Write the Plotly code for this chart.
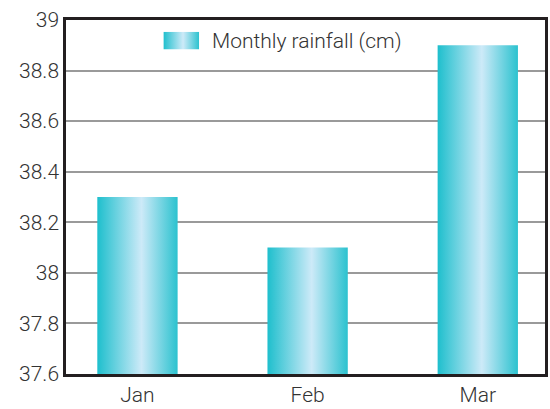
import base64
import plotly.graph_objects as go

categories = ["Jan", "Feb", "Mar"]
rainfall = [38.3, 38.1, 38.9]
series_name = "Monthly rainfall (cm)"
y_ticks = [37.6, 37.8, 38.0, 38.2, 38.4, 38.6, 38.8, 39.0]
y_tick_labels = ["37.6", "37.8", "38", "38.2", "38.4", "38.6", "38.8", "39"]

y_min, y_max = 37.6, 39.0
half_w = 0.236
grad = [[0, "#1ebfcd"], [0.55, "#cdeaf8"], [1, "#2bc2cf"]]

fig = go.Figure()
for i, (cat, v) in enumerate(zip(categories, rainfall)):
    fig.add_trace(go.Scatter(
        x=[i - half_w, i - half_w, i + half_w, i + half_w, i - half_w],
        y=[y_min, v, v, y_min, y_min],
        mode="lines", fill="toself",
        line=dict(width=0, color="#2bc2cf"),
        fillgradient=dict(type="horizontal", colorscale=grad),
        name=series_name, showlegend=False,
        hoverinfo="skip",
    ))

# legend swatch (gradient) + label
stops = "".join(
    f'<stop offset="{p}" stop-color="{c}"/>' for p, c in grad
)
svg = (
    '<svg xmlns="http://www.w3.org/2000/svg" width="36" height="18" viewBox="0 0 36 18">'
    f'<defs><linearGradient id="g" x1="0" y1="0" x2="1" y2="0">{stops}</linearGradient></defs>'
    '<rect x="0" y="0" width="36" height="18" fill="url(#g)"/></svg>'
)
src = "data:image/svg+xml;base64," + base64.b64encode(svg.encode()).decode()

plot_w, plot_h = 482, 360
fig.add_layout_image(
    source=src, xref="paper", yref="paper",
    x=(164 - 66) / plot_w, y=1 - (32 - 20) / plot_h,
    sizex=36 / plot_w, sizey=18 / plot_h,
    xanchor="left", yanchor="top", sizing="stretch", layer="above",
)

font = dict(family="Roboto", size=21, color="#333333", weight=300)
fig.add_annotation(
    text=series_name, xref="paper", yref="paper",
    x=(211 - 66) / plot_w, y=1 - (41 - 20) / plot_h,
    xanchor="left", yanchor="middle", showarrow=False, font=font,
)

fig.update_layout(
    width=550, height=409,
    margin=dict(l=66, r=2, t=20, b=29),
    paper_bgcolor="white", plot_bgcolor="white",
    font=font,
    showlegend=False,
    xaxis=dict(range=[-0.42, 2.395], tickvals=list(range(len(categories))),
               ticktext=categories, showgrid=False, zeroline=False,
               showline=True, linecolor="#231f20", linewidth=2.5, mirror=True,
               ticks="", ticklen=0),
    yaxis=dict(range=[y_min, y_max], tickvals=y_ticks, ticktext=y_tick_labels,
               showgrid=True, gridcolor="#9a9a9a", gridwidth=1.5, zeroline=False,
               showline=True, linecolor="#231f20", linewidth=2.5, mirror=True,
               ticks="", ticklen=0),
)
fig.write_html("out.html")
